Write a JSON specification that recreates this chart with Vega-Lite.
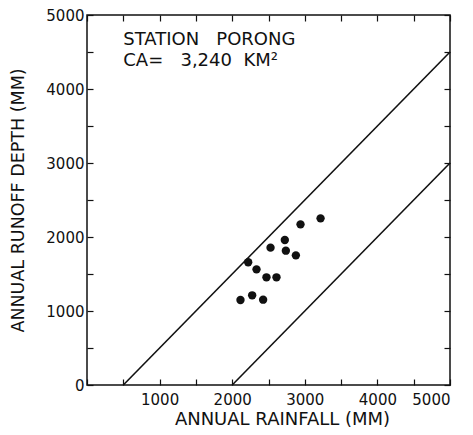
{
  "$schema": "https://vega.github.io/schema/vega-lite/v6.json",
  "width": 363,
  "height": 370,
  "autosize": "none",
  "padding": {"left": 87, "top": 15, "right": 23, "bottom": 50},
  "background": "white",
  "config": {
    "view": {"stroke": "#111", "strokeWidth": 1.5},
    "font": "DejaVu Sans",
    "axis": {"domain": false, "grid": false, "tickColor": "#111", "tickWidth": 1.2, "labelColor": "#111", "titleColor": "#111", "labelFont": "DejaVu Sans", "titleFont": "DejaVu Sans", "titleFontWeight": "normal"}
  },
  "datasets": {
    "points": [
      {"rainfall": 2114, "runoff": 1149},
      {"rainfall": 2275, "runoff": 1212},
      {"rainfall": 2426, "runoff": 1153},
      {"rainfall": 2220, "runoff": 1658},
      {"rainfall": 2335, "runoff": 1563},
      {"rainfall": 2472, "runoff": 1455},
      {"rainfall": 2610, "runoff": 1455},
      {"rainfall": 2528, "runoff": 1856},
      {"rainfall": 2725, "runoff": 1959},
      {"rainfall": 2739, "runoff": 1815},
      {"rainfall": 2877, "runoff": 1752},
      {"rainfall": 2941, "runoff": 2171},
      {"rainfall": 3217, "runoff": 2252}
    ],
    "envelope": [
      {"line": "upper", "rainfall": 500, "runoff": 0},
      {"line": "upper", "rainfall": 5000, "runoff": 4500},
      {"line": "lower", "rainfall": 2000, "runoff": 0},
      {"line": "lower", "rainfall": 5000, "runoff": 3000}
    ]
  },
  "layer": [
    {
      "data": {"name": "envelope"},
      "mark": {"type": "line", "color": "#111", "strokeWidth": 1.6},
      "encoding": {
        "x": {"field": "rainfall", "type": "quantitative", "scale": {"domain": [0, 5000], "nice": false},
          "axis": {"orient": "bottom", "values": [0,500,1000,1500,2000,2500,3000,3500,4000,4500,5000], "tickSize": -6, "labelPadding": 13, "format": "d", "labelExpr": "datum.value % 1000 == 0 && datum.value > 0 ? datum.label : ''", "labelFontSize": 15, "title": "ANNUAL RAINFALL (MM)", "titleFontSize": 18, "titlePadding": 3, "titleX": 195, "titleAnchor": "middle"}},
        "y": {"field": "runoff", "type": "quantitative", "scale": {"domain": [0, 5000], "nice": false},
          "axis": {"orient": "left", "values": [0,500,1000,1500,2000,2500,3000,3500,4000,4500,5000], "tickSize": -6, "labelPadding": 9, "format": "d", "labelExpr": "datum.value % 1000 == 0 ? datum.label : ''", "labelFontSize": 15, "title": "ANNUAL RUNOFF DEPTH (MM)", "titleFontSize": 17.5, "titlePadding": 18}},
        "detail": {"field": "line"}
      }
    },
    {
      "data": {"name": "points"},
      "mark": {"type": "circle", "color": "#111", "opacity": 1, "size": 70},
      "encoding": {
        "x": {"field": "rainfall", "type": "quantitative", "axis": {"orient": "top", "values": [0,500,1000,1500,2000,2500,3000,3500,4000,4500,5000], "tickSize": -6, "labels": false, "title": null}},
        "y": {"field": "runoff", "type": "quantitative", "axis": {"orient": "right", "values": [0,500,1000,1500,2000,2500,3000,3500,4000,4500,5000], "tickSize": -6, "labels": false, "title": null}}
      }
    },
    {
      "data": {"values": [{"label": "STATION\u00a0\u00a0\u00a0PORONG", "rainfall": 500, "runoff": 4662}, {"label": "CA=\u00a0\u00a0\u00a03,240\u00a0\u00a0KM²", "rainfall": 500, "runoff": 4378}]},
      "mark": {"type": "text", "align": "left", "baseline": "middle", "fontSize": 18, "color": "#111"},
      "encoding": {
        "x": {"field": "rainfall", "type": "quantitative", "axis": null},
        "y": {"field": "runoff", "type": "quantitative", "axis": null},
        "text": {"field": "label"}
      }
    }
  ]
}
